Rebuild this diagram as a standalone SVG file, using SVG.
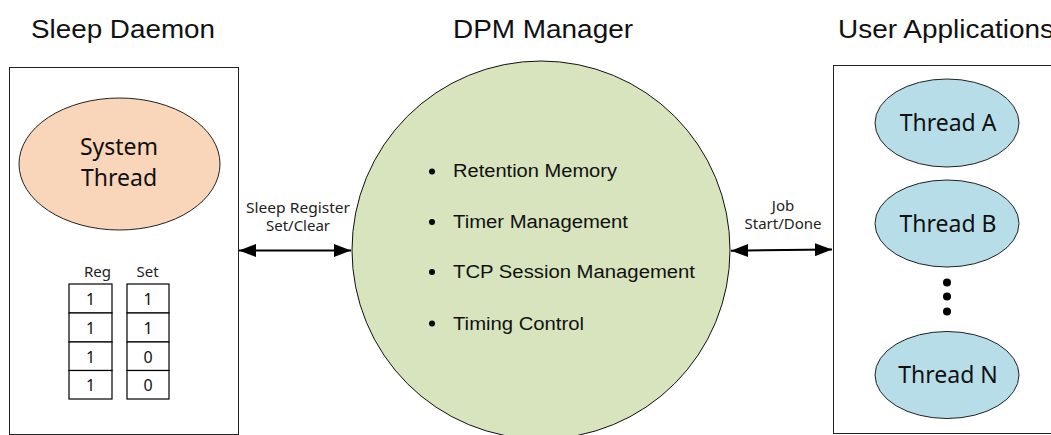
<svg xmlns="http://www.w3.org/2000/svg" width="1051" height="435" viewBox="0 0 1051 435">
<defs>
<style>
.title{font-family:"Liberation Sans",Arial,sans-serif;font-size:25px;fill:#111;text-anchor:start}
.bul{font-family:"Liberation Sans",Arial,sans-serif;font-size:18px;fill:#111}
.lbl{font-family:"Noto Sans","Open Sans",sans-serif;font-size:15px;fill:#222;text-anchor:middle}
.num{font-family:"Noto Sans","Open Sans",sans-serif;font-size:16px;fill:#111;text-anchor:middle}
.big{font-family:"Noto Sans","Open Sans",sans-serif;font-size:23px;fill:#111;text-anchor:middle}
.cell{fill:#fff;stroke:#000;stroke-width:1.2}
.box{fill:#fff;stroke:#222;stroke-width:1}
.conn{stroke:#000;stroke-width:2;fill:none}
</style>
<marker id="ah" viewBox="0 0 10 10" refX="10" refY="5" markerWidth="17" markerHeight="13" markerUnits="userSpaceOnUse" orient="auto-start-reverse" preserveAspectRatio="none">
<path d="M0,0 L10,5 L0,10 z" fill="#000"/>
</marker>
</defs>
<rect width="1051" height="435" fill="#fff"/>

<text class="title" x="31" y="38" textLength="184" lengthAdjust="spacingAndGlyphs">Sleep Daemon</text>
<text class="title" x="453" y="38" textLength="180" lengthAdjust="spacingAndGlyphs">DPM Manager</text>
<text class="title" x="838" y="38" textLength="216" lengthAdjust="spacingAndGlyphs">User Applications</text>

<g id="sleep-daemon">
<rect class="box" x="9.5" y="67.5" width="229" height="367"/>
<g id="system-thread">
<ellipse cx="119.5" cy="164" rx="100.5" ry="66" fill="#F9D5BA" stroke="#222" stroke-width="1"/>
<text class="big" x="119" y="155" font-size="22">System</text>
<text class="big" x="119" y="186" font-size="22">Thread</text>
</g>
<g id="register-table">
<text class="lbl" x="97.5" y="277">Reg</text>
<text class="lbl" x="147.5" y="277">Set</text>
<rect class="cell" x="69" y="284" width="43" height="29"/>
<rect class="cell" x="69" y="313" width="43" height="29"/>
<rect class="cell" x="69" y="342" width="43" height="28.5"/>
<rect class="cell" x="69" y="370.5" width="43" height="28.5"/>
<rect class="cell" x="127" y="284" width="42" height="29"/>
<rect class="cell" x="127" y="313" width="42" height="29"/>
<rect class="cell" x="127" y="342" width="42" height="28.5"/>
<rect class="cell" x="127" y="370.5" width="42" height="28.5"/>
<text class="num" x="90.5" y="305">1</text>
<text class="num" x="90.5" y="334">1</text>
<text class="num" x="90.5" y="362.5">1</text>
<text class="num" x="90.5" y="391">1</text>
<text class="num" x="148" y="305">1</text>
<text class="num" x="148" y="334">1</text>
<text class="num" x="148" y="362.5">0</text>
<text class="num" x="148" y="391">0</text>
</g>
</g>

<g id="dpm-manager">
<circle cx="541" cy="250" r="189" fill="#D7E4BD" stroke="#111" stroke-width="1"/>
<circle cx="432" cy="171.5" r="3" fill="#000"/>
<circle cx="432" cy="222" r="3" fill="#000"/>
<circle cx="432" cy="272" r="3" fill="#000"/>
<circle cx="432" cy="323.5" r="3" fill="#000"/>
<text class="bul" x="453" y="177" textLength="164" lengthAdjust="spacingAndGlyphs">Retention Memory</text>
<text class="bul" x="453" y="227.5" textLength="175" lengthAdjust="spacingAndGlyphs">Timer Management</text>
<text class="bul" x="453" y="277.5" textLength="242" lengthAdjust="spacingAndGlyphs">TCP Session Management</text>
<text class="bul" x="453" y="329.5" textLength="131" lengthAdjust="spacingAndGlyphs">Timing Control</text>
</g>

<g id="user-applications">
<rect class="box" x="833.5" y="65.5" width="240" height="368"/>
<g id="thread-a">
<ellipse cx="947" cy="123" rx="72" ry="44" fill="#B7DEE8" stroke="#222" stroke-width="1"/>
<text class="big" x="948" y="131">Thread A</text>
</g>
<g id="thread-b">
<ellipse cx="947" cy="223.5" rx="72" ry="43.5" fill="#B7DEE8" stroke="#222" stroke-width="1"/>
<text class="big" x="948" y="231.5">Thread B</text>
</g>
<g id="ellipsis">
<circle cx="947" cy="282.5" r="4" fill="#000"/>
<circle cx="947" cy="296.5" r="4" fill="#000"/>
<circle cx="947" cy="311.5" r="4" fill="#000"/>
</g>
<g id="thread-n">
<ellipse cx="947" cy="375" rx="72" ry="43.5" fill="#B7DEE8" stroke="#222" stroke-width="1"/>
<text class="big" x="948" y="383">Thread N</text>
</g>
</g>

<g id="connectors">
<line class="conn" x1="239" y1="250.5" x2="351" y2="250.5" marker-start="url(#ah)" marker-end="url(#ah)"/>
<text class="lbl" x="298" y="213" textLength="104" lengthAdjust="spacingAndGlyphs">Sleep Register</text>
<text class="lbl" x="298" y="231">Set/Clear</text>
<line class="conn" x1="731" y1="250.7" x2="832" y2="249.5" marker-start="url(#ah)" marker-end="url(#ah)"/>
<text class="lbl" x="783" y="211">Job</text>
<text class="lbl" x="783" y="229" textLength="77" lengthAdjust="spacingAndGlyphs">Start/Done</text>
</g>
</svg>
